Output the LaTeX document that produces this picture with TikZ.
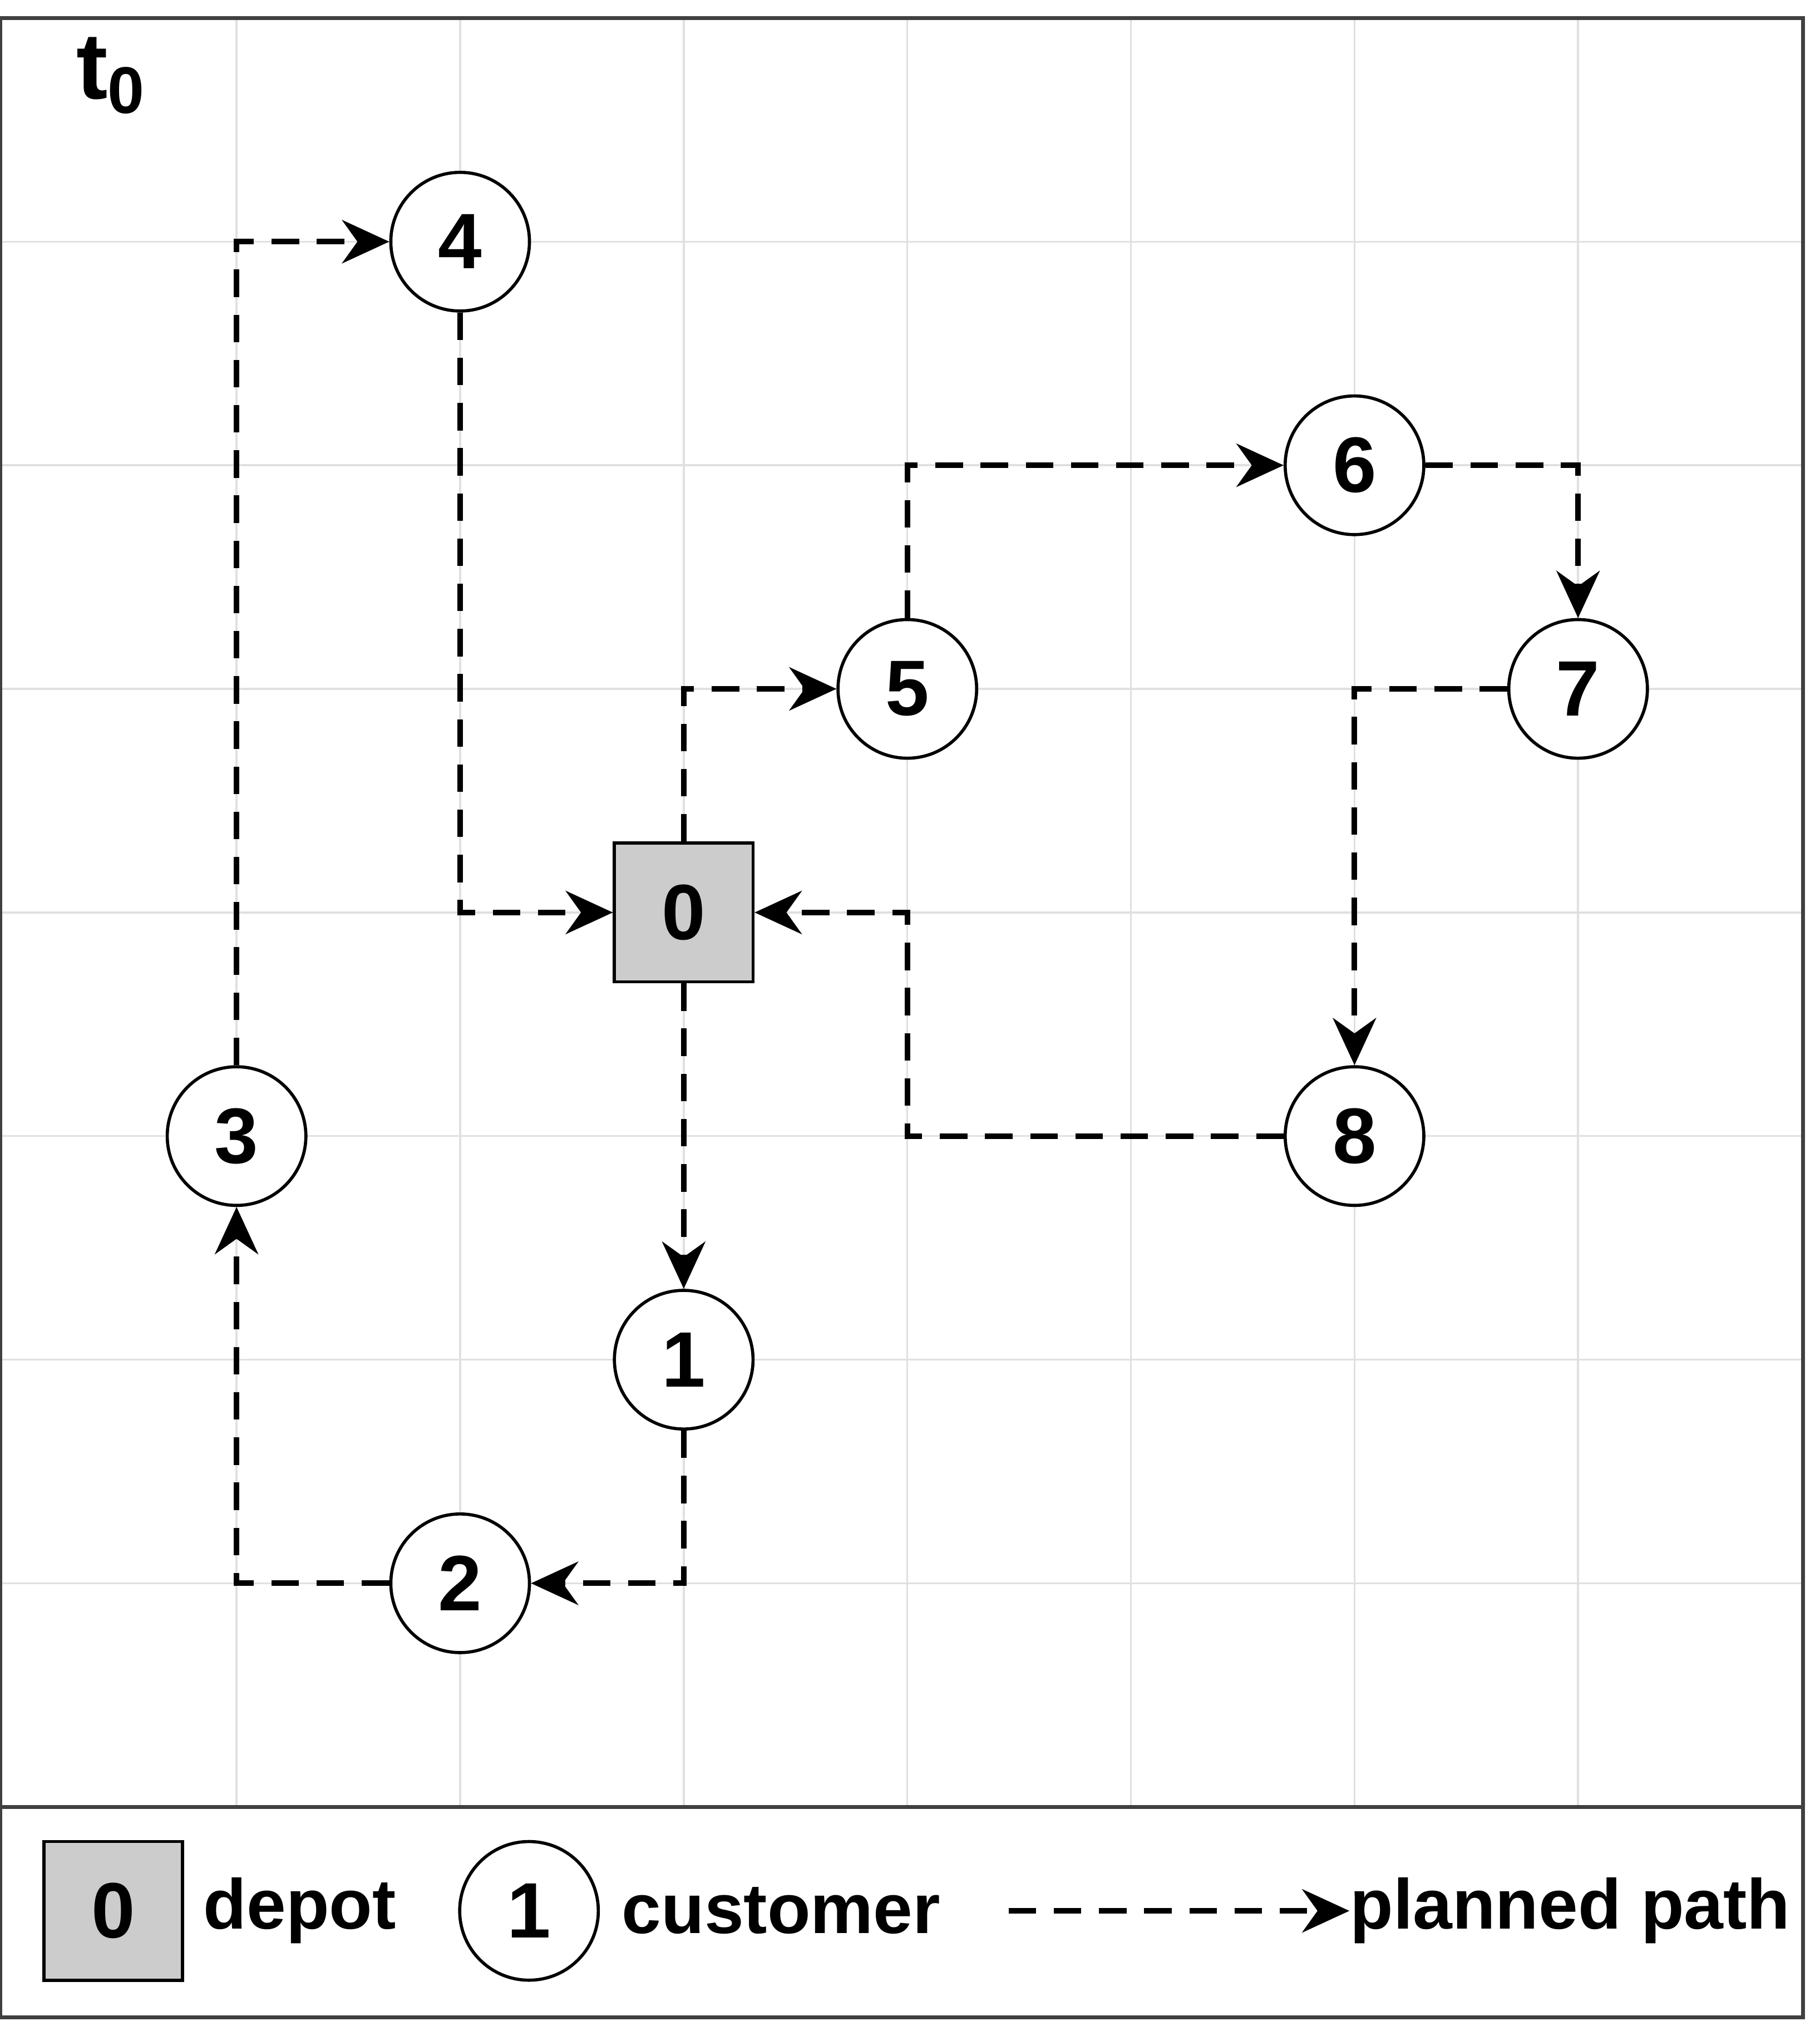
\documentclass[tikz,border=0pt]{standalone}
\usepackage{fontspec}
\setmainfont{Liberation Sans}
\usetikzlibrary{arrows.meta,positioning,calc}
\tikzset{
  customer/.style={
    draw,thick,circle,fill=white,
    minimum size=1.24cm,inner sep=0pt,
    font=\fontsize{20}{20}\selectfont\bfseries
  },
  depot/.style={
    draw,thick,rectangle,fill=black!20,
    minimum size=1.24cm,inner sep=0pt,
    font=\fontsize{20}{20}\selectfont\bfseries
  },
  planned/.style={
    line width=1.4pt,dash pattern=on 7pt off 4.5pt,
    -{Stealth[length=12pt,width=11pt]}
  },
  hv/.style={to path={-| (\tikztotarget)}},
  vh/.style={to path={|- (\tikztotarget)}},
  legend text/.style={anchor=west,inner sep=0pt,font=\fontsize{18}{18}\selectfont\bfseries}
}

\begin{document}
\begin{tikzpicture}[x=2cm,y=2cm]
    \useasboundingbox (-0.058,-1.047) rectangle (8.081,8.081);
    \foreach \x in {1,...,7}
      \draw[black!12,line width=0.5pt] (\x,0) -- (\x,8);
    \foreach \y in {1,...,7}
      \draw[black!12,line width=0.5pt] (-0.058,\y) -- (8.006,\y);
    \draw[black!75,line width=1pt] (-0.058,-0.942) rectangle (8.006,8);
    \draw[black!75,line width=1pt] (-0.058,0) -- (8.006,0);

    \node[anchor=base,font=\fontsize{24}{24}\selectfont\bfseries] (time) at (0.44,7.64) {t$_{\mathbf{0}}$};

    \path{
      node[depot] (n0) at (3,4) {0}
      node[customer] (n1) at (3,2) {1}
      node[customer] (n2) at (2,1) {2}
      node[customer] (n3) at (1,3) {3}
      node[customer] (n4) at (2,7) {4}
      node[customer] (n5) at (4,5) {5}
      node[customer] (n6) at (6,6) {6}
      node[customer] (n7) at (7,5) {7}
      node[customer] (n8) at (6,3) {8}
    };

    \coordinate (c8) at (4,3);
    \coordinate (c0) at (4,4);

    \path[planned]{
      (n0) edge (n1)
      (n1) edge[vh] (n2)
      (n2) edge[hv] (n3)
      (n3) edge[vh] (n4)
      (n4) edge[vh] (n0)
      (n0) edge[vh] (n5)
      (n5) edge[vh] (n6)
      (n6) edge[hv] (n7)
      (n7) edge[hv] (n8)
    };
    \draw[planned] (n8) -- (c8) -- (c0) -- (n0);

    % legend
    \node[depot] (ldepot) at (0.448,-0.465) {0};
    \node[legend text] (tdepot) at (0.849,-0.465) {depot};
    \node[customer] (lcust) at (2.308,-0.465) {1};
    \node[legend text] (tcust) at (2.72,-0.465) {customer};
    \coordinate (lpath) at (4.453,-0.465);
    \node[legend text] (tpath) at (5.977,-0.465) {planned path};
    \draw[planned] (lpath) -- (tpath.west);
\end{tikzpicture}
\end{document}
